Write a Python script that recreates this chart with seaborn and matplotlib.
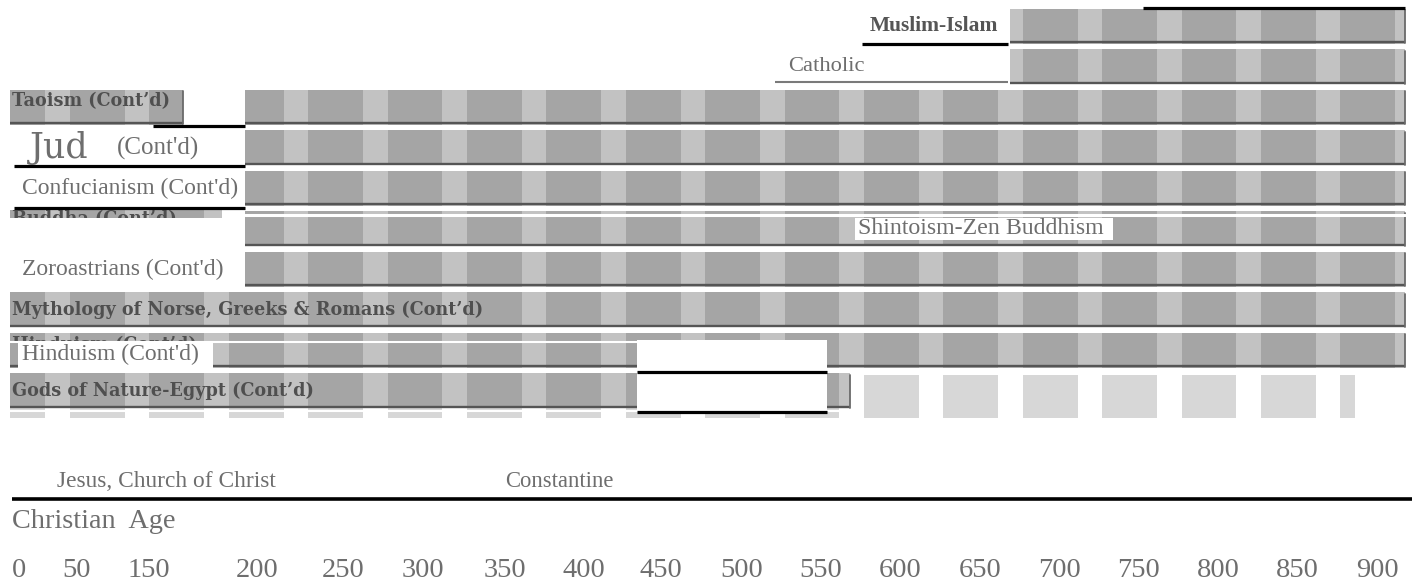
import numpy as np
import pandas as pd
import matplotlib
matplotlib.use("Agg")
import matplotlib.pyplot as plt
from matplotlib.patches import Rectangle
import seaborn as sns

# ---- data ----------------------------------------------------------------
rows = ["Muslim-Islam", "Catholic", "Taoism", "Judaism", "Confucianism",
        "Buddha", "Zoroastrians", "Mythology", "Hinduism", "Gods of Nature-Egypt"]
# bar extents on the timeline, in tick slots (slot i = i-th tick label)
bar_start = [12.38, 12.38, 2.75, 2.75, 2.75, 2.75, 2.75, -0.21, -0.21, -0.21]
bar_end = [17.35, 17.35, 17.35, 17.35, 17.35, 17.35, 17.35, 17.35, 17.35, 10.36]

# the little label tab left of the Taoism bar
tab_rows = ["Taoism"]
tab_start = [-0.21]
tab_end = [1.96]

tick_labels = ["0", "50", "150", "200", "250", "300", "350", "400", "450",
               "500", "550", "600", "650", "700", "750", "800", "850", "900"]

era_labels = ["Jesus, Church of Christ", "Constantine"]
era_slots = [0.38, 6.02]

# ---- style ---------------------------------------------------------------
sns.set_style("white")
plt.rcParams["font.family"] = ["Liberation Serif", "DejaVu Serif"]

bar_grey = "#a5a5a5"
stripe_grey = "#c2c2c2"
text_grey = "#6e6e6e"
bold_grey = "#4f4f4f"
BOLD = dict(family="DejaVu Serif", fontweight="bold", fontsize=12.7, color=bold_grey)

fig = plt.figure(figsize=(14.26, 5.88), dpi=100)
ax = fig.add_axes([0, 40 / 588, 1, 548 / 588])

df = pd.DataFrame({"religion": rows, "start": bar_start, "end": bar_end})
df["span"] = df["end"] - df["start"]

sns.barplot(data=df, x="span", y="religion", order=rows, orient="h",
            left=df["start"].to_numpy(), color=bar_grey, saturation=1,
            width=0.864, errorbar=None, linewidth=0, zorder=2, ax=ax)
sns.barplot(x=np.subtract(tab_end, tab_start), y=tab_rows, order=rows, orient="h",
            left=np.array(tab_start), color=bar_grey, saturation=1,
            width=0.864, errorbar=None, linewidth=0, zorder=2, ax=ax)

ax.set_xlim(-0.340, 17.617)
ax.set_ylim(12.877, -0.654)


def add_stripes(patch, colour, z):
    for k in range(-1, 18):
        sp = ax.axvspan(k + 0.23, k + 0.54, color=colour, lw=0, zorder=z)
        sp.set_clip_path(patch)


# striped scan look + shadow lines on every bar
bars = [p for c in ax.containers for p in c]
for b in bars:
    add_stripes(b, stripe_grey, 2.1)
    x0, x1 = b.get_x(), b.get_x() + b.get_width()
    yb = b.get_y() + b.get_height()
    ax.plot([x0, x1], [yb - 0.04, yb - 0.04], color="#555555", lw=1.7,
            solid_capstyle="butt", zorder=2.3)
    ax.plot([x0, x1], [yb + 0.05, yb + 0.05], color="white", lw=1.5,
            solid_capstyle="butt", zorder=2.3)
    ax.plot([x1, x1], [b.get_y() + 0.03, yb - 0.02], color="#6a6a6a", lw=1.3,
            zorder=2.3)

# pale striped strip under the bottom rows
band = Rectangle((-0.214, 8.6), 16.937, 1.067, color="#d7d7d7", lw=0, zorder=1)
ax.add_patch(band)
add_stripes(band, "white", 1.1)

# cut-off Buddha tab, only the top of its label shows
btab = Rectangle((-0.214, 4.531), 2.67, 0.197, color=bar_grey, lw=0, zorder=2)
ax.add_patch(btab)
add_stripes(btab, stripe_grey, 2.1)
t = ax.text(-0.189, 4.76, "Buddha (Cont’d)", va="center", zorder=3, clip_on=True, **BOLD)
t.set_clip_path(btab)

# bold labels printed on the bars
ax.text(-0.189, 1.84, "Taoism (Cont’d)", va="center", zorder=3, **BOLD)
ax.text(-0.189, 7.0, "Mythology of Norse, Greeks & Romans (Cont’d)", va="center", zorder=3, **BOLD)
ax.text(-0.189, 9.0, "Gods of Nature-Egypt (Cont’d)", va="center", zorder=3, **BOLD)
# old Hinduism label, mostly pasted over
hclip = Rectangle((-0.214, 7.55), 8.0, 0.265, fill=False, lw=0, visible=False)
ax.add_patch(hclip)
t = ax.text(-0.189, 7.86, "Hinduism (Cont’d)", va="center", zorder=3, clip_on=True, **BOLD)
t.set_clip_path(hclip)

# white paste-overs
for (x, y, w, h) in [(-0.113, 7.815, 2.455, 0.617), (7.682, 7.741, 2.392, 1.778),
                     (10.427, 4.728, 3.249, 0.544)]:
    ax.add_patch(Rectangle((x, y), w, h, color="white", lw=0, zorder=4))
ax.plot([-0.214, 7.682], [7.79, 7.79], color="white", lw=1.5, zorder=4)
ax.plot([2.745, 17.353], [4.65, 4.65], color="white", lw=2.2, zorder=4)

# black rules
for (y, xa, xb) in [(2.457, 1.587, 2.745), (3.444, -0.164, 2.745), (4.481, -0.164, 2.745),
                    (0.432, 10.515, 12.354), (-0.457, 14.054, 17.353),
                    (8.531, 7.682, 10.074), (9.519, 7.682, 10.074)]:
    ax.plot([xa, xb], [y, y], color="black", lw=2.3, solid_capstyle="butt", zorder=5)
ax.plot([9.419, 12.354], [1.37, 1.37], color="#7a7a7a", lw=1.5, solid_capstyle="butt", zorder=5)
ax.plot([-0.189, 17.441], [11.667, 11.667], color="black", lw=2.6, solid_capstyle="butt", zorder=5)

# regular labels
ax.text(10.616, 0.0, "Muslim-Islam", fontweight="bold", fontsize=15.5, color="#555555",
        va="center", zorder=6)
ax.text(9.583, 1.0, "Catholic", fontsize=16.2, color=text_grey, va="center", zorder=6)
ax.text(0.038, 3.0, "Jud", family="DejaVu Serif", fontsize=25, color=text_grey,
        va="center", zorder=6)
ax.text(1.133, 3.02, "(Cont'd)", fontsize=18, color=text_grey, va="center", zorder=6)
ax.text(-0.063, 4.0, "Confucianism (Cont'd)", fontsize=17, color=text_grey, va="center", zorder=6)
ax.text(10.465, 5.0, "Shintoism-Zen Buddhism", fontsize=17.2, color=text_grey, va="center", zorder=6)
ax.text(-0.063, 6.0, "Zoroastrians (Cont'd)", fontsize=17, color=text_grey, va="center", zorder=6)
ax.text(-0.063, 8.11, "Hinduism (Cont'd)", fontsize=17, color=text_grey, va="center", zorder=6)

for lab, s in zip(era_labels, era_slots):
    ax.text(s, 11.37, lab, fontsize=16.8 if s < 1 else 16.3, color=text_grey,
            va="baseline", zorder=6)
ax.text(-0.189, 12.383, "Christian  Age", fontsize=20.3, color=text_grey, va="baseline", zorder=6)

# axis: the printed scale is not quite even at its left end
tick_pos = [-0.10, 0.62, 1.54, 2.90, 3.98, 4.99, 6.02, 7.01, 7.98] + list(range(9, 18))
ax.set_xticks(tick_pos)
ax.set_xticklabels(tick_labels)
ax.set_yticks([])
ax.set_xlabel("")
ax.set_ylabel("")
ax.tick_params(axis="x", length=0, pad=7, labelsize=20.5, labelcolor=text_grey)
for side in ["top", "right", "bottom", "left"]:
    ax.spines[side].set_visible(False)

fig.savefig("out.png", dpi=100, facecolor="white")
